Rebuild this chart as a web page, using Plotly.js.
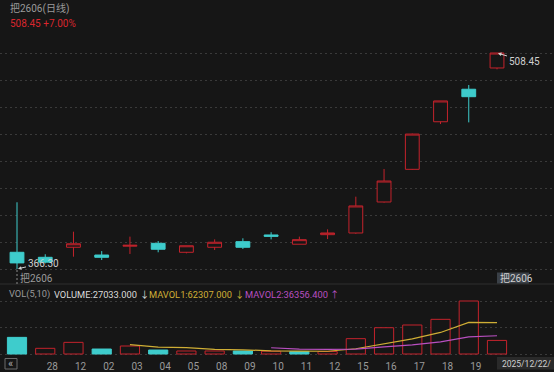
<!DOCTYPE html>
<html>
<head>
<meta charset="utf-8">
<script src="https://cdn.plot.ly/plotly-3.0.1.min.js"></script>
<style>html,body{margin:0;padding:0;background:#161616;}#chart{width:554px;height:372px;}</style>
</head>
<body>
<div id="chart"></div>
<script>
// ---- data ----
const dates = ['11/27','11/28','12/01','12/02','12/03','12/04','12/05','12/08','12/09','12/10','12/11','12/12','12/15','12/16','12/17','12/18','12/19','12/22'];
const tickLabels = ['', '28','12','02','03','04','05','08','09','10','11','12','15','16','17','18','19',''];
const openP  = [377.3, 374.0, 380.6, 375.5, 381.3, 383.2, 377.3, 380.6, 384.3, 388.7, 382.6, 388.9, 390.0, 410.4, 431.9, 463.2, 484.6, 498.6];
const highP  = [410.2, 376.0, 390.85, 378.1, 387.6, 384.7, 381.6, 385.8, 386.5, 390.5, 387.6, 392.4, 413.9, 432.1, 455.4, 476.9, 487.4, 508.45];
const lowP   = [366.30, 370.0, 374.4, 372.2, 376.2, 377.3, 376.6, 378.8, 379.5, 385.8, 382.6, 386.0, 389.5, 410.0, 431.6, 461.7, 462.8, 497.7];
const closeP = [370.3, 370.8, 382.9, 374.0, 381.9, 379.3, 381.6, 383.9, 380.6, 387.8, 385.6, 390.0, 407.8, 424.2, 455.1, 476.9, 479.7, 508.45];
const volume = [33100, 11300, 23200, 9900, 15900, 7900, 6000, 6000, 6000, 5500, 5000, 5000, 30529, 52300, 57700, 69000, 105502, 27033];
const symbol = '把2606';
const periodTitle = '把2606(日线)';
const changeText = '508.45 +7.00%';
const dateLabel = '2025/12/22/';

// ---- styling ----
const W = 554, H = 372;
const BG = '#161616', RED = '#c4232c', CYAN = '#3ecccc', GRID = '#3a3a3a';
const YEL = '#cfae35', MAG = '#b84fc0', GRAY = '#9a9a9a', LIGHT = '#cfcfcf';
const FONT = 'Roboto, "Noto Sans CJK SC", sans-serif';
const px = x => x / W, py = y => 1 - y / H;

const idx = dates.map((d, i) => i);
const n = dates.length;

function ma(arr, k) { return arr.map((v, i) => i < k - 1 ? null : arr.slice(i - k + 1, i + 1).reduce((a, b) => a + b, 0) / k); }
const ma5 = ma(volume, 5), ma10 = ma(volume, 10);
const volUp = closeP.map((c, i) => i === 0 ? c >= openP[0] : c >= closeP[i - 1]);

// price scale: low at 269px, high at 53px, panel 40..284px
const lo = Math.min(...lowP), hi = Math.max(...highP);
const step = (hi - lo) / 8;
const priceTicks = Array.from({length: 9}, (_, k) => lo + k * step);
const yRange = [lo - step * 15 / 27, hi + step * 13 / 27];
const vmax = Math.max(...volume);
const vPad = 0.03;

const unit = 480 / (n - 1);
const x0 = -17 / unit;
const xRange = [x0, x0 + W / unit];

const traces = [
  {
    type: 'candlestick', x: idx, open: openP, high: highP, low: lowP, close: closeP,
    xaxis: 'x', yaxis: 'y', hoverinfo: 'skip', whiskerwidth: 0,
    increasing: {line: {color: RED, width: 1}, fillcolor: BG},
    decreasing: {line: {color: CYAN, width: 1}, fillcolor: CYAN},
    showlegend: false
  },
  {
    type: 'bar', x: idx, y: volume, xaxis: 'x2', yaxis: 'y2', width: 0.68,
    marker: {color: volUp.map(u => u ? BG : CYAN), line: {color: volUp.map(u => u ? RED : CYAN), width: 1}},
    hoverinfo: 'skip', showlegend: false
  },
  {type: 'scatter', mode: 'lines', x: idx, y: ma5, xaxis: 'x2', yaxis: 'y2', line: {color: YEL, width: 1.2}, hoverinfo: 'skip', showlegend: false},
  {type: 'scatter', mode: 'lines', x: idx, y: ma10, xaxis: 'x2', yaxis: 'y2', line: {color: MAG, width: 1.2}, hoverinfo: 'skip', showlegend: false}
];

const fmt3 = v => v.toFixed(3);
const ann = (x, y, text, color, size, extra) => Object.assign({
  xref: 'paper', yref: 'paper', x: px(x), y: py(y), xanchor: 'left', yanchor: 'middle',
  text, showarrow: false, font: {family: FONT, size: size || 10, color}
}, extra || {});

const iHi = highP.indexOf(hi), iLo = lowP.indexOf(lo);
const last = n - 1;
const HF = 9.3;

const layout = {
  width: W, height: H, margin: {l: 0, r: 0, t: 0, b: 0},
  paper_bgcolor: BG, plot_bgcolor: BG, showlegend: false, dragmode: false,
  font: {family: FONT, color: GRAY, size: 10},
  xaxis: {domain: [0, 1], range: xRange, anchor: 'y', showticklabels: false, showgrid: false, zeroline: false, showline: false, ticks: '', rangeslider: {visible: false}, fixedrange: true},
  yaxis: {domain: [py(284), py(40)], range: yRange, tickmode: 'array', tickvals: priceTicks, showticklabels: false, showgrid: true, gridcolor: GRID, griddash: '2px,3px', gridwidth: 1, zeroline: false, showline: false, ticks: '', fixedrange: true},
  xaxis2: {domain: [0, 1], range: xRange, anchor: 'y2', tickmode: 'array', tickvals: idx.map(i => i + 0.25), ticktext: tickLabels, tickfont: {family: FONT, size: 10, color: GRAY}, ticks: '', ticklabelstandoff: 3, showgrid: false, zeroline: false, showline: false, fixedrange: true},
  yaxis2: {domain: [py(354 + 53 * vPad), py(354 - 53 * 1.25)], range: [-vmax * vPad, vmax * 1.25], tickmode: 'array', tickvals: [0, vmax / 2, vmax], showticklabels: false, showgrid: true, gridcolor: GRID, griddash: '2px,3px', gridwidth: 1, zeroline: false, showline: false, ticks: '', fixedrange: true},
  shapes: [
    {type: 'line', xref: 'paper', yref: 'paper', x0: 0, x1: 1, y0: py(284), y1: py(284), line: {color: '#2e2e2e', width: 1}},
    {type: 'line', xref: 'x', yref: 'paper', x0: iLo, x1: iLo, y0: py(270), y1: py(284), line: {color: '#8a8a8a', width: 1, dash: '2px,2px'}},
    {type: 'rect', xref: 'paper', yref: 'paper', x0: px(497), x1: px(529), y0: py(283.5), y1: py(272.5), fillcolor: '#3a4047', line: {width: 0}},
    {type: 'rect', xref: 'paper', yref: 'paper', x0: px(497), x1: px(560), y0: py(369.5), y1: py(357), fillcolor: '#2a2a2a', line: {width: 0}},
    {type: 'rect', xref: 'paper', yref: 'paper', x0: px(5), x1: px(17), y0: py(369), y1: py(358.5), fillcolor: BG, line: {color: '#6a6a6a', width: 1}}
  ],
  annotations: [
    ann(8, 8.5, periodTitle, GRAY, 10),
    ann(8, 24, changeText, '#d9262e', 10),
    ann(7, 294, 'VOL(5,10)', GRAY, HF),
    ann(52, 294, 'VOLUME:' + fmt3(volume[last]), '#dadada', HF),
    ann(138, 294, '↓', '#dadada', HF),
    ann(147, 294, 'MAVOL1:' + fmt3(ma5[last]), YEL, HF),
    ann(233, 294, '↓', YEL, HF),
    ann(243, 294, 'MAVOL2:' + fmt3(ma10[last]), MAG, HF),
    ann(328, 294, '↑', MAG, HF),
    {xref: 'x', yref: 'y', x: iHi, y: hi, text: hi.toFixed(2), showarrow: true, ax: 27, ay: 8,
     arrowcolor: LIGHT, arrowhead: 2, arrowsize: 0.7, arrowwidth: 1, standoff: 1, font: {family: FONT, size: 10, color: LIGHT}},
    {xref: 'x', yref: 'y', x: iLo, y: lo, text: lo.toFixed(2), showarrow: true, ax: 26, ay: -6,
     arrowcolor: LIGHT, arrowhead: 2, arrowsize: 0.7, arrowwidth: 1, standoff: 1, font: {family: FONT, size: 10, color: LIGHT}},
    ann(18, 277.5, symbol, GRAY, 10),
    ann(498, 278, symbol, LIGHT, 10),
    ann(500, 363.5, dateLabel, LIGHT, 8.5),
    ann(5.5, 363.5, '«', '#b0b0b0', 11)
  ]
};

Plotly.newPlot('chart', traces, layout, {staticPlot: true, displayModeBar: false});
</script>
</body>
</html>
